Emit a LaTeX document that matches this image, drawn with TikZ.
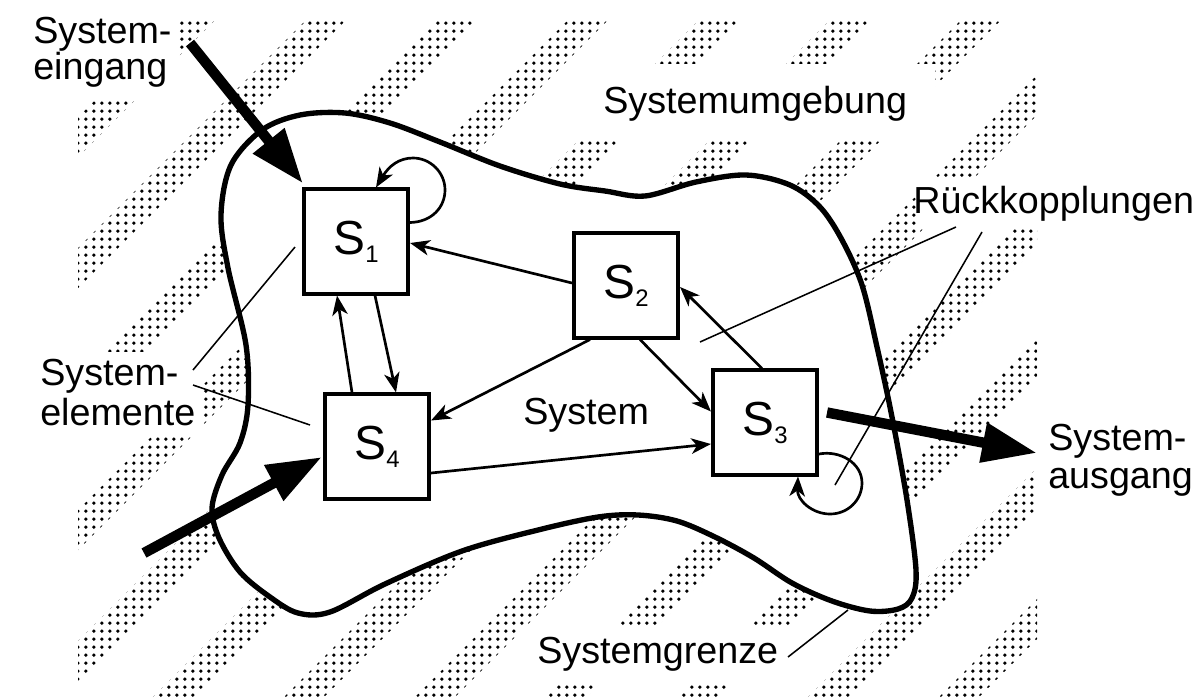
\documentclass[tikz,border=0pt]{standalone}
\usepackage{fontspec}
\setmainfont{Liberation Sans}
\usetikzlibrary{arrows.meta,calc,patterns.meta}

% halftone dots used for the surroundings
\pgfdeclarepattern{
  name=halftone,
  type=uncolored,
  bottom left={\pgfpoint{0pt}{0pt}},
  top right={\pgfpoint{5.9pt}{5.9pt}},
  tile size={\pgfpoint{5.9pt}{5.9pt}},
  code={\pgfpathcircle{\pgfpoint{2.95pt}{2.95pt}}{1.45pt}\pgfusepath{fill}}
}

% element label: large S with lowered index
\newcommand\elem[1]{{\fontsize{34}{40}\selectfont S}\raisebox{-5.7pt}{\fontsize{17}{20}\selectfont #1}}

\begin{document}
\begin{tikzpicture}[x=0.025cm,y=-0.025cm,
  box/.style={draw, line width=2.6pt, fill=white, minimum size=2.61cm, inner sep=0pt},
  flow/.style={line width=1.9pt, -{Stealth[length=14pt,width=11pt,inset=4pt]}},
  bigflow/.style={line width=7.4pt, -{Triangle[length=39pt,width=27pt]}},
  pointer/.style={line width=1.1pt},
  border/.style={line width=3.8pt},
  lab/.style={font=\fontsize{26.8}{32}\selectfont, inner sep=0pt, anchor=base west},
  mask/.style={fill=white},
  hatch/.style={pattern=halftone, pattern color=black}]

\useasboundingbox (0,0) rectangle (1203,698);

% diagonal dotted bands of the surroundings
\begin{scope}
  \clip (78,18) rectangle (1037,698);
  \foreach \k in {-2,...,10}{
    \pgfmathsetmacro\cx{326+131*\k}
    \fill[hatch] (\cx,0) -- ({\cx+40},0) -- ({\cx+40-698},698) -- ({\cx-698},698) -- cycle;
  }
\end{scope}

% keep the bands clear around the labels
\fill[mask] (0,0) rectangle (178,100);
\fill[mask] (575,64) rectangle (935,140);
\fill[mask] (917,177) rectangle (1203,227);
\fill[mask] (0,352) rectangle (200,435);
\fill[mask] (520,628) rectangle (805,682);

% system boundary
\draw[border, fill=white] plot[smooth cycle, tension=0.55] coordinates {
  (221,215) (231,165) (262,130) (300,115) (345,113) (390,123) (440,142)
  (500,166) (560,184) (605,191) (645,196) (696,182) (746,175) (790,185)
  (820,207) (842,240) (862,285) (877,347) (892,417) (907,500) (916,570)
  (912,598) (898,609) (870,611) (832,601) (792,583) (754,558) (715,537)
  (677,521) (638,515) (598,517) (538,530) (462,551) (385,584) (330,612)
  (298,613) (270,597) (240,572) (219,538) (212,508) (222,475) (240,443)
  (248,405) (246,345) (228,268)};

% system elements
\node[box] (S1) at (356,241.5) {\elem{1}};
\node[box] (S2) at (626,285.5) {\elem{2}};
\node[box] (S3) at (765,422.5) {\elem{3}};
\node[box] (S4) at (377,446.5) {\elem{4}};

% couplings between the elements
\draw[flow] ($(S2.west)+(0,-2.5)$) -- ($(S1.east)+(0,1.5)$);
\draw[flow] ($(S2.south)+(-36,0)$) -- ($(S4.east)+(0,-26)$);
\draw[flow] ($(S2.south)+(14,0)$) -- ($(S3.west)+(0,-11)$);
\draw[flow] ($(S3.north)+(-3,0)$) -- ($(S2.east)+(0,1.5)$);
\draw[flow] ($(S4.east)+(0,26.5)$) -- ($(S3.west)+(0,21.5)$);
\draw[flow] ($(S4.north)+(-25,0)$) -- ($(S1.south)+(-19,0)$);
\draw[flow] ($(S1.south)+(19,0)$) -- ($(S4.north)+(19,0)$);

% feedback loops
\draw[flow] ($(S1.east)+(0,-19)$) .. controls (432,222) and (445,207) .. (445,190)
  .. controls (445,172) and (430,158) .. (413,158)
  .. controls (399,158) and (389,166) .. ($(S1.north)+(20,0)$);
\draw[flow] ($(S3.east)+(0,31.5)$) .. controls (840,450) and (862,463) .. (862,483)
  .. controls (862,500) and (848,514) .. (830,514)
  .. controls (812,514) and (797,500) .. ($(S3.south)+(33,0)$);

% system input and output
\coordinate (inA) at (190,43);
\coordinate (inB) at (144,553);
\coordinate (outA) at (1037,453);
\draw[bigflow] (inA) -- ($(S1.north west)+(1,-4)$);
\draw[bigflow] (inB) -- ($(S4.west)+(-1,10.5)$);
\draw[bigflow] ($(S3.east)+(8,-10)$) -- (outA);

% label pointers
\coordinate (elA) at (193,370);
\coordinate (elAend) at (295,247);
\coordinate (elB) at (193,385);
\coordinate (elBend) at (310,425);
\coordinate (fbA) at (956,227);
\coordinate (fbAend) at (700,342);
\coordinate (fbB) at (982,232);
\coordinate (fbBend) at (835,485);
\coordinate (bdA) at (788,657);
\coordinate (bdAend) at (848,610);
\draw[pointer] (elA) -- (elAend);
\draw[pointer] (elB) -- (elBend);
\draw[pointer] (fbA) -- (fbAend);
\draw[pointer] (fbB) -- (fbBend);
\draw[pointer] (bdA) -- (bdAend);

% labels
\node[lab] (inL1) at (33,43) {System-};
\node[lab] (inL2) at (33,79) {eingang};
\node[lab] (env) at (603,113) {Systemumgebung};
\node[lab] (fb) at (913,213) {Rückkopplungen};
\node[lab] (elL1) at (40,385) {System-};
\node[lab] (elL2) at (40,425) {elemente};
\node[lab] (sys) at (523,424) {System};
\node[lab] (outL1) at (1048,450) {System-};
\node[lab] (outL2) at (1048,488) {ausgang};
\node[lab] (bd) at (537,663) {Systemgrenze};
\end{tikzpicture}
\end{document}
